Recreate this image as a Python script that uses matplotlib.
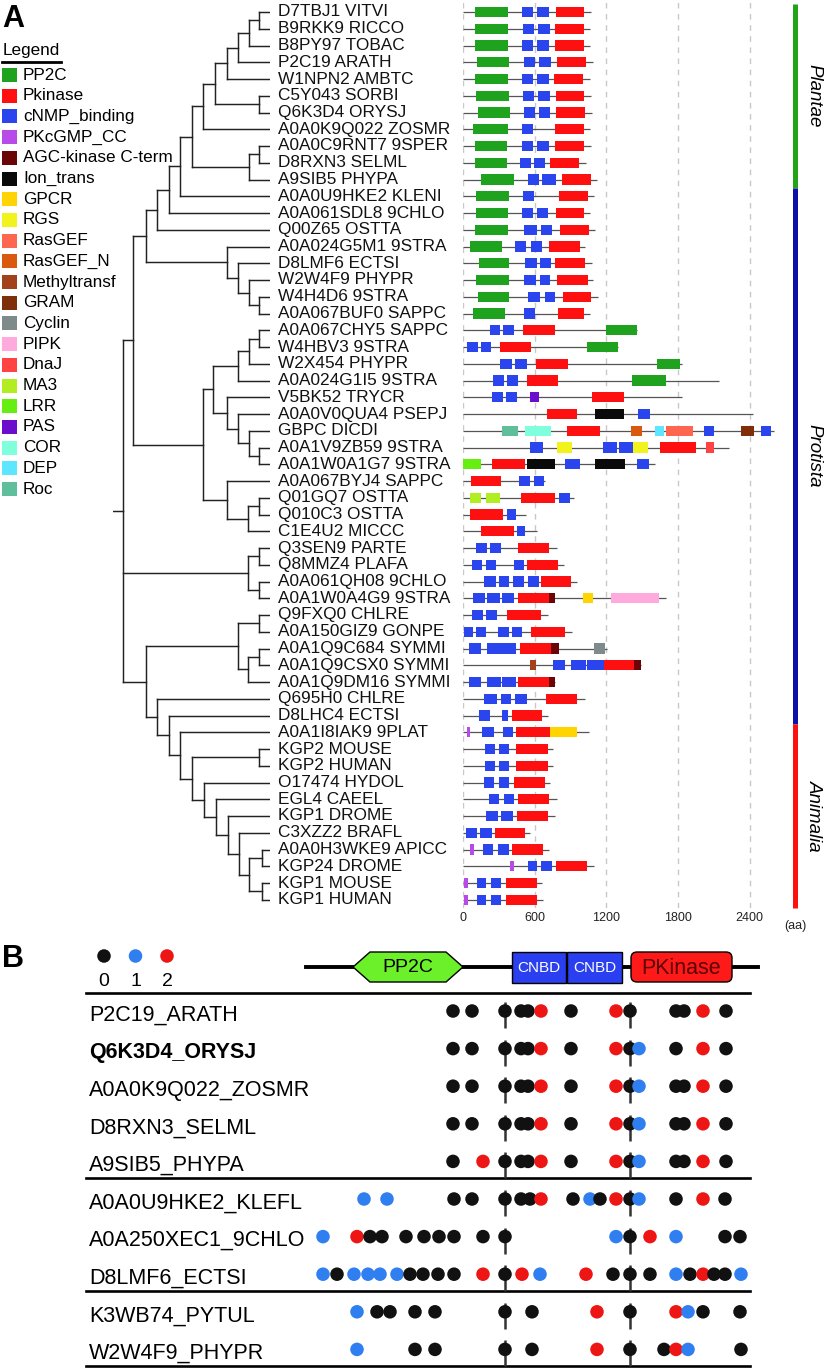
import matplotlib
matplotlib.use('Agg')
import matplotlib.pyplot as plt
from matplotlib.patches import Polygon, Rectangle, FancyBboxPatch

plt.rcParams['font.family'] = ['Liberation Sans', 'DejaVu Sans']

W, H = 826, 1368

# ---------------- panel A data ----------------
# tree: (node depth, children...) ; leaves are labels, depth counted from the root stub
tree = (10,
        (20,
         (33,
          (44,
           (56,
            (67,
             (79,
              (90,
               (102,
                (114, (125, (136, (146, 'D7TBJ1 VITVI', 'B9RKK9 RICCO'), 'B8PY97 TOBAC'),
                            'P2C19 ARATH'), 'W1NPN2 AMBTC'),
                (146, 'C5Y043 SORBI', 'Q6K3D4 ORYSJ')),
               'A0A0K9Q022 ZOSMR'),
              (136, (146, 'A0A0C9RNT7 9SPER', 'D8RXN3 SELML'), 'A9SIB5 PHYPA')),
             'A0A0U9HKE2 KLENI'),
            'A0A061SDL8 9CHLO'),
           'Q00Z65 OSTTA'),
          (114, 'A0A024G5M1 9STRA',
           (125, 'D8LMF6 ECTSI',
            (136, 'W2W4F9 PHYPR', (146, 'W4H4D6 9STRA', 'A0A067BUF0 SAPPC'))))),
         (90,
          (100,
           (125, (136, (146, 'A0A067CHY5 SAPPC', 'W4HBV3 9STRA'), 'W2X454 PHYPR'),
            'A0A024G1I5 9STRA'),
           (114, 'V5BK52 TRYCR',
            (125, 'A0A0V0QUA4 PSEPJ',
             (136, 'GBPC DICDI', (146, 'A0A1V9ZB59 9STRA', 'A0A1W0A1G7 9STRA'))))),
          (114, 'A0A067BYJ4 SAPPC',
           (135, (146, 'Q01GQ7 OSTTA', 'Q010C3 OSTTA'), 'C1E4U2 MICCC')))),
        (135, (146, 'Q3SEN9 PARTE', 'Q8MMZ4 PLAFA'),
         (146, 'A0A061QH08 9CHLO', 'A0A1W0A4G9 9STRA')),
        (33,
         (125, (146, 'Q9FXQ0 CHLRE', 'A0A150GIZ9 GONPE'),
          (135, (146, 'A0A1Q9C684 SYMMI', 'A0A1Q9CSX0 SYMMI'), 'A0A1Q9DM16 SYMMI')),
         (44, 'Q695H0 CHLRE',
          (56, 'D8LHC4 ECTSI',
           (67, 'A0A1I8IAK9 9PLAT',
            (79, (146, 'KGP2 MOUSE', 'KGP2 HUMAN'),
             (91, 'O17474 HYDOL',
              (103, 'EGL4 CAEEL',
               (115, 'KGP1 DROME',
                (126, 'C3XZZ2 BRAFL',
                 (136, (149, 'A0A0H3WKE9 APICC', 'KGP24 DROME'),
                  (149, 'KGP1 MOUSE', 'KGP1 HUMAN'))))))))))))
TIP = 157

protein_length = [1070, 1065, 1065, 1085, 1060, 1070, 1080, 1065, 1070, 1032,
                  1121, 1099, 1060, 1107, 1024, 1080, 1088, 1127, 1060, 1456,
                  1294, 1832, 2139, 1832, 2426, 2605, 2223, 1609, 689, 926,
                  530, 619, 787, 842, 954, 1701, 711, 912, 1205, 1492,
                  773, 1018, 711, 1051, 753, 753, 731, 787, 767, 564,
                  722, 1096, 663, 668]

domains = [
    [('PP2C', 103, 377), ('cNMP_binding', 494, 586), ('cNMP_binding', 619, 720), ('Pkinase', 775, 1015)],
    [('PP2C', 103, 377), ('cNMP_binding', 502, 597), ('cNMP_binding', 625, 725), ('Pkinase', 767, 1015)],
    [('PP2C', 103, 377), ('cNMP_binding', 494, 586), ('cNMP_binding', 619, 720), ('Pkinase', 770, 1015)],
    [('PP2C', 117, 388), ('cNMP_binding', 508, 600), ('cNMP_binding', 633, 736), ('Pkinase', 787, 1029)],
    [('PP2C', 103, 374), ('cNMP_binding', 494, 586), ('cNMP_binding', 619, 717), ('Pkinase', 764, 1004)],
    [('PP2C', 112, 382), ('cNMP_binding', 500, 592), ('cNMP_binding', 625, 731), ('Pkinase', 775, 1015)],
    [('PP2C', 123, 390), ('cNMP_binding', 508, 600), ('cNMP_binding', 636, 731), ('Pkinase', 781, 1023)],
    [('PP2C', 84, 374), ('cNMP_binding', 494, 586), ('Pkinase', 767, 1015)],
    [('PP2C', 103, 368), ('cNMP_binding', 494, 586), ('cNMP_binding', 619, 720), ('Pkinase', 770, 1015)],
    [('PP2C', 98, 368), ('cNMP_binding', 474, 569), ('cNMP_binding', 597, 686), ('Pkinase', 731, 968)],
    [('PP2C', 151, 424), ('cNMP_binding', 541, 636), ('cNMP_binding', 664, 781), ('Pkinase', 831, 1071)],
    [('PP2C', 112, 382), ('cNMP_binding', 499, 594), ('Pkinase', 803, 1049)],
    [('PP2C', 112, 374), ('cNMP_binding', 494, 586), ('cNMP_binding', 619, 708), ('Pkinase', 778, 1010)],
    [('PP2C', 103, 374), ('cNMP_binding', 513, 619), ('cNMP_binding', 653, 745), ('Pkinase', 814, 1051)],
    [('PP2C', 61, 326), ('cNMP_binding', 438, 530), ('cNMP_binding', 569, 661), ('Pkinase', 717, 976)],
    [('PP2C', 131, 388), ('cNMP_binding', 516, 619), ('cNMP_binding', 647, 739), ('Pkinase', 773, 1024)],
    [('PP2C', 112, 382), ('cNMP_binding', 508, 614), ('cNMP_binding', 642, 731), ('Pkinase', 787, 1044)],
    [('PP2C', 123, 388), ('cNMP_binding', 544, 647), ('cNMP_binding', 683, 773), ('Pkinase', 837, 1074)],
    [('PP2C', 84, 354), ('cNMP_binding', 508, 605), ('Pkinase', 795, 1015)],
    [('cNMP_binding', 223, 312), ('cNMP_binding', 335, 424), ('Pkinase', 502, 767), ('PP2C', 1196, 1456)],
    [('cNMP_binding', 33, 123), ('cNMP_binding', 151, 237), ('Pkinase', 312, 569), ('PP2C', 1038, 1294)],
    [('cNMP_binding', 312, 410), ('cNMP_binding', 438, 536), ('Pkinase', 614, 876), ('PP2C', 1623, 1818)],
    [('cNMP_binding', 251, 340), ('cNMP_binding', 368, 457), ('Pkinase', 536, 792), ('PP2C', 1414, 1701)],
    [('cNMP_binding', 243, 332), ('cNMP_binding', 363, 452), ('PAS', 563, 639), ('Pkinase', 1079, 1344)],
    [('Pkinase', 703, 954), ('Ion_trans', 1107, 1350), ('cNMP_binding', 1464, 1562)],
    [('Roc', 326, 460), ('COR', 522, 736), ('Pkinase', 870, 1149), ('RasGEF_N', 1406, 1498),
     ('DEP', 1609, 1684), ('RasGEF', 1699, 1922), ('cNMP_binding', 2014, 2103), ('GRAM', 2329, 2432),
     ('cNMP_binding', 2493, 2580)],
    [('cNMP_binding', 558, 669), ('RGS', 787, 912), ('cNMP_binding', 1169, 1289), ('cNMP_binding', 1302, 1420),
     ('RGS', 1425, 1548), ('Pkinase', 1646, 1952), ('DnaJ', 2033, 2103)],
    [('LRR', 0, 151), ('Pkinase', 243, 522), ('Ion_trans', 536, 773), ('cNMP_binding', 856, 976),
     ('Ion_trans', 1102, 1353), ('cNMP_binding', 1456, 1559)],
    [('Pkinase', 67, 321), ('cNMP_binding', 471, 563), ('cNMP_binding', 597, 681)],
    [('MA3', 61, 151), ('MA3', 195, 312), ('Pkinase', 488, 773), ('cNMP_binding', 806, 898)],
    [('Pkinase', 61, 335), ('cNMP_binding', 368, 441)],
    [('Pkinase', 151, 424), ('cNMP_binding', 452, 516)],
    [('cNMP_binding', 112, 201), ('cNMP_binding', 229, 318), ('Pkinase', 460, 722)],
    [('cNMP_binding', 75, 159), ('cNMP_binding', 192, 276), ('cNMP_binding', 430, 513), ('Pkinase', 536, 792)],
    [('cNMP_binding', 178, 276), ('cNMP_binding', 298, 388), ('cNMP_binding', 418, 508),
     ('cNMP_binding', 541, 633), ('Pkinase', 653, 906)],
    [('cNMP_binding', 84, 181), ('cNMP_binding', 201, 312), ('cNMP_binding', 326, 424), ('Pkinase', 457, 717),
     ('AGC-kinase C-term', 717, 773), ('GPCR', 1004, 1085), ('PIPK', 1238, 1637)],
    [('cNMP_binding', 75, 165), ('cNMP_binding', 195, 284), ('Pkinase', 368, 653)],
    [('cNMP_binding', 11, 81), ('cNMP_binding', 109, 192), ('cNMP_binding', 290, 382),
     ('cNMP_binding', 410, 494), ('Pkinase', 569, 856)],
    [('cNMP_binding', 47, 151), ('cNMP_binding', 201, 446), ('Pkinase', 474, 736),
     ('AGC-kinase C-term', 736, 800), ('Cyclin', 1093, 1191)],
    [('Methyltransf', 558, 614), ('cNMP_binding', 753, 856), ('cNMP_binding', 904, 1032),
     ('cNMP_binding', 1038, 1177), ('Pkinase', 1177, 1434), ('AGC-kinase C-term', 1434, 1492)],
    [('cNMP_binding', 47, 151), ('cNMP_binding', 201, 318), ('cNMP_binding', 326, 443), ('Pkinase', 460, 717),
     ('AGC-kinase C-term', 717, 773)],
    [('cNMP_binding', 178, 284), ('cNMP_binding', 320, 404), ('cNMP_binding', 438, 536), ('Pkinase', 697, 954)],
    [('cNMP_binding', 137, 229), ('cNMP_binding', 326, 374), ('Pkinase', 410, 661)],
    [('PKcGMP_CC', 33, 61), ('cNMP_binding', 159, 257), ('cNMP_binding', 332, 418), ('Pkinase', 446, 725),
     ('GPCR', 725, 954)],
    [('cNMP_binding', 187, 265), ('cNMP_binding', 304, 388), ('Pkinase', 446, 708)],
    [('cNMP_binding', 187, 265), ('cNMP_binding', 304, 388), ('Pkinase', 446, 708)],
    [('cNMP_binding', 178, 257), ('cNMP_binding', 298, 382), ('Pkinase', 430, 689)],
    [('cNMP_binding', 215, 298), ('cNMP_binding', 340, 424), ('Pkinase', 460, 722)],
    [('cNMP_binding', 189, 293), ('cNMP_binding', 316, 415), ('Pkinase', 451, 708)],
    [('cNMP_binding', 23, 113), ('cNMP_binding', 144, 239), ('Pkinase', 271, 519)],
    [('PKcGMP_CC', 59, 90), ('cNMP_binding', 167, 253), ('cNMP_binding', 293, 383), ('Pkinase', 406, 668)],
    [('PKcGMP_CC', 392, 428), ('cNMP_binding', 541, 622), ('cNMP_binding', 654, 744), ('Pkinase', 776, 1037)],
    [('PKcGMP_CC', 5, 40), ('cNMP_binding', 113, 189), ('cNMP_binding', 235, 316), ('Pkinase', 361, 618)],
    [('PKcGMP_CC', 5, 40), ('cNMP_binding', 113, 189), ('cNMP_binding', 235, 316), ('Pkinase', 361, 618)],
]

legend_names = ['PP2C', 'Pkinase', 'cNMP_binding', 'PKcGMP_CC', 'AGC-kinase C-term', 'Ion_trans',
                'GPCR', 'RGS', 'RasGEF', 'RasGEF_N', 'Methyltransf', 'GRAM', 'Cyclin', 'PIPK',
                'DnaJ', 'MA3', 'LRR', 'PAS', 'COR', 'DEP', 'Roc']
legend_colors = ['#1fa31f', '#ff1010', '#2b45ee', '#b84ae8', '#6b0505', '#0a0a0a',
                 '#ffd400', '#f2f21c', '#ff6650', '#d9590f', '#a2421a', '#7f2e0a', '#7f8a8a', '#ffaadd',
                 '#ff4242', '#b0ee22', '#66ee11', '#6a0dcc', '#80ffdd', '#5ce6ff', '#5fbf9a']
domain_colors = dict(zip(legend_names, legend_colors))

groups = ['Plantae', 'Protista', 'Animalia']
group_first = [0, 11, 43]
group_last = [10, 42, 53]
group_colors = ['#22a31a', '#0a10a8', '#ff1010']

aa_ticks = [0, 600, 1200, 1800, 2400]

# ---------------- panel B data ----------------
b_proteins = ['P2C19_ARATH', 'Q6K3D4_ORYSJ', 'A0A0K9Q022_ZOSMR', 'D8RXN3_SELML', 'A9SIB5_PHYPA',
              'A0A0U9HKE2_KLEFL', 'A0A250XEC1_9CHLO', 'D8LMF6_ECTSI', 'K3WB74_PYTUL', 'W2W4F9_PHYPR']
b_sites = [
    [453, 472, 505, 521, 528, 541, 571, 616, 630, 676, 684, 703, 726],
    [453, 472, 505, 521, 528, 541, 571, 616, 630, 639, 676, 703, 726],
    [453, 472, 505, 521, 528, 541, 571, 616, 630, 639, 676, 684, 703, 726],
    [453, 472, 505, 521, 528, 541, 571, 616, 630, 639, 676, 684, 703, 726],
    [453, 483, 505, 521, 528, 541, 571, 616, 630, 639, 676, 684, 703, 726],
    [364, 387, 454, 472, 505, 521, 530, 541, 573, 590, 600, 616, 630, 639, 676, 703, 725],
    [323, 357, 370, 382, 406, 424, 439, 454, 483, 505, 616, 630, 650, 676, 725, 740],
    [323, 337, 354, 368, 380, 397, 410, 423, 438, 454, 483, 505, 522, 540, 586, 613, 630, 650,
     676, 690, 703, 714, 725, 741],
    [357, 377, 390, 415, 435, 505, 532, 597, 630, 676, 688, 703, 740],
    [357, 415, 435, 505, 532, 597, 630, 664, 676, 688, 741],
]
b_states = [
    [0, 0, 0, 0, 0, 2, 0, 2, 0, 0, 0, 2, 0],
    [0, 0, 0, 0, 0, 2, 0, 2, 0, 1, 0, 2, 0],
    [0, 0, 0, 0, 0, 2, 0, 2, 0, 1, 0, 0, 2, 0],
    [0, 0, 0, 0, 0, 2, 0, 2, 0, 1, 0, 0, 2, 0],
    [0, 2, 0, 0, 0, 2, 0, 2, 0, 1, 0, 0, 2, 0],
    [1, 1, 0, 0, 0, 0, 0, 2, 0, 1, 0, 2, 0, 1, 0, 2, 0],
    [1, 2, 0, 0, 0, 0, 0, 0, 0, 0, 1, 0, 2, 1, 0, 0],
    [1, 0, 1, 1, 1, 1, 0, 0, 0, 0, 2, 0, 2, 1, 2, 0, 0, 0, 1, 0, 2, 0, 0, 1],
    [1, 0, 0, 0, 0, 0, 0, 2, 0, 2, 1, 0, 0],
    [1, 0, 0, 0, 0, 2, 0, 0, 2, 1, 0],
]
b_group_ends = [4, 7, 9]
state_labels = ['0', '1', '2']
state_colors = ['#111111', '#2f7ff0', '#ee1515']
motif_names = ['PP2C', 'CNBD', 'CNBD', 'PKinase']
motif_start = [353, 512, 567, 631]
motif_end = [463, 566, 622, 732]
backbone = [306, 758]
ref_sites = [505, 630]

# ---------------- layout ----------------
fig = plt.figure(figsize=(W / 100, H / 100), dpi=100)

ax_fig = fig.add_axes([0, 0, 1, 1])
ax_fig.set_xlim(0, W)
ax_fig.set_ylim(H, 0)
ax_fig.axis('off')

row0, row_step, top_bottom = 12, 16.75, 908
ylim_rows = ((top_bottom - row0) / row_step, -row0 / row_step)
px_per_aa = 0.1195
dom_xmax = 2800

ax_tree = fig.add_axes([113 / W, 1 - top_bottom / H, TIP / W, top_bottom / H])
ax_tree.set_xlim(0, TIP)
ax_tree.set_ylim(*ylim_rows)
ax_tree.axis('off')

ax_dom = fig.add_axes([463 / W, 1 - top_bottom / H, dom_xmax * px_per_aa / W, top_bottom / H])
ax_dom.set_xlim(0, dom_xmax)
ax_dom.set_ylim(*ylim_rows)
ax_dom.set_facecolor('none')
for sp in ax_dom.spines.values():
    sp.set_visible(False)

# tree
leaf_rows = []
tree_kw = dict(color='#222222', lw=1.05, solid_capstyle='projecting')


def draw_node(node):
    if isinstance(node, str):
        leaf_rows.append(node)
        return len(leaf_rows) - 1, TIP
    depth = node[0]
    ys = []
    for child in node[1:]:
        y, d = draw_node(child)
        ax_tree.plot([depth, d], [y, y], **tree_kw)
        ys.append(y)
    ax_tree.plot([depth, depth], [min(ys), max(ys)], **tree_kw)
    return (min(ys) + max(ys)) / 2, depth


root_y, root_d = draw_node(tree)
ax_tree.plot([0, root_d], [root_y, root_y], **tree_kw)
for r, name in enumerate(leaf_rows):
    ax_tree.annotate(name, (TIP, r), xytext=(6, 0), textcoords='offset points',
                     va='center', ha='left', fontsize=12.4, color='#111111',
                     annotation_clip=False)

# domains
for i, (length, doms) in enumerate(zip(protein_length, domains)):
    ax_dom.hlines(i, 0, length, color='#555555', lw=0.9, zorder=2)
    for name, s, e in doms:
        ax_dom.barh(i, e - s, left=s, height=0.62, color=domain_colors[name], zorder=3)

ax_dom.set_xticks(aa_ticks)
ax_dom.set_yticks([])
ax_dom.grid(axis='x', color='#c8c8c8', ls=(0, (4, 4)), lw=1.0)
ax_dom.set_axisbelow(True)
ax_dom.tick_params(axis='x', length=0, labelsize=9, pad=3, colors='#222222')

for g, f, l, c in zip(groups, group_first, group_last, group_colors):
    ax_dom.vlines(2778, f - 0.5, l + 0.5, color=c, lw=3.6, clip_on=False)
    ax_dom.text(2937, (f + l) / 2, g, rotation=-90, style='italic', fontsize=13.5,
                ha='center', va='center', clip_on=False)

ax_fig.text(795, 926, '(aa)', fontsize=9, ha='center', va='center', color='#222222')

# legend of panel A
ax_fig.text(2, 19, 'A', fontsize=22, fontweight='bold', ha='left', va='center')
ax_fig.text(3, 50, 'Legend', fontsize=12.3, ha='left', va='center')
ax_fig.plot([2, 61], [62, 62], color='k', lw=2)
for k, (name, c) in enumerate(zip(legend_names, legend_colors)):
    y = 75 + k * 20.7
    ax_fig.add_patch(Rectangle((2, y - 7), 15, 14, facecolor=c, edgecolor='none'))
    ax_fig.text(23, y, name, fontsize=12.3, ha='left', va='center')

# ---------------- panel B ----------------
dot_size = 95
ax_fig.text(2, 959, 'B', fontsize=22, fontweight='bold', ha='left', va='center')
for k, (lab, c) in enumerate(zip(state_labels, state_colors)):
    ax_fig.scatter(104 + k * 31.5, 956, s=dot_size, color=c, edgecolors='none')
    ax_fig.text(104 + k * 31.5, 981, lab, fontsize=14, ha='center', va='center')

my = 967
ax_fig.plot(backbone, [my, my], color='k', lw=2.8, zorder=1)
for name, s, e in zip(motif_names, motif_start, motif_end):
    if name == 'PP2C':
        ax_fig.add_patch(Polygon([(s, my), (s + 17, my - 15), (e - 17, my - 15), (e, my),
                                  (e - 17, my + 15), (s + 17, my + 15)],
                                 closed=True, facecolor='#6cf02a', edgecolor='k', lw=1.0, zorder=2))
        ax_fig.text((s + e) / 2, my, name, fontsize=14, ha='center', va='center', zorder=3)
    elif name == 'CNBD':
        ax_fig.add_patch(Rectangle((s, my - 15.5), e - s, 31, facecolor='#2a3ff0',
                                   edgecolor='k', lw=1.0, zorder=2))
        ax_fig.text((s + e) / 2, my + 1, name, fontsize=11, color='white',
                    ha='center', va='center', zorder=3)
    else:
        ax_fig.add_patch(FancyBboxPatch((s, my - 15), e - s, 30,
                                        boxstyle='round,pad=0,rounding_size=6',
                                        facecolor='#ff1a1a', edgecolor='k', lw=1.0, zorder=2))
        ax_fig.text((s + e) / 2, my + 1, name, fontsize=15.5, color='#5c0000',
                    ha='center', va='center', zorder=3)

b_text0, b_step = 1015, 37.6
line_kw = dict(color='k', lw=1.9)
ax_fig.plot([86, 750], [b_text0 - 22, b_text0 - 22], **line_kw)
for k in b_group_ends:
    yl = b_text0 + k * b_step + 13
    ax_fig.plot([86, 750], [yl, yl], **line_kw)

for k, (prot, xs, st) in enumerate(zip(b_proteins, b_sites, b_states)):
    ty = b_text0 + k * b_step
    ax_fig.text(89, ty, prot, fontsize=15.5, ha='left', va='center',
                fontweight='bold' if prot == 'Q6K3D4_ORYSJ' else 'normal')
    ax_fig.vlines(ref_sites, ty - 13, ty + 13, color='#333333', lw=1.8, zorder=2)
    ax_fig.scatter(xs, [ty - 4] * len(xs), s=dot_size, c=[state_colors[v] for v in st],
                   edgecolors='none', zorder=3)

fig.savefig('out.png', dpi=100)
